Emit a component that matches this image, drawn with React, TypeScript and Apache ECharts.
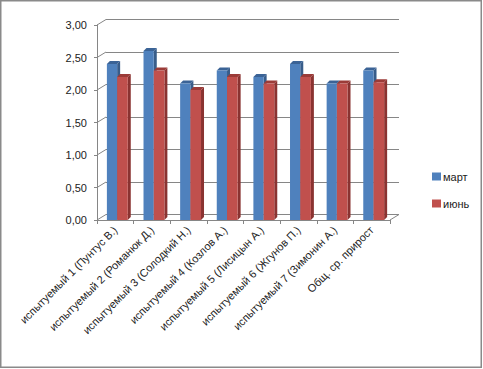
import React, { useEffect, useRef } from "react";
import * as echarts from "echarts";

const categories = [
  "испытуемый 1 (Пунтус В.)",
  "испытуемый 2 (Романюк Д.)",
  "испытуемый 3 (Солодкий Н.)",
  "испытуемый 4 (Козлов А.)",
  "испытуемый 5 (Лисицын А.)",
  "испытуемый 6 (Жгунов П.)",
  "испытуемый 7 (Зимонин А.)",
  "Общ. ср. прирост",
];
const seriesNames = ["март", "июнь"];
const marchValues = [2.4, 2.6, 2.1, 2.3, 2.2, 2.4, 2.1, 2.3];
const juneValues = [2.2, 2.3, 2.0, 2.2, 2.1, 2.2, 2.1, 2.12];
const yTicks = [0, 0.5, 1, 1.5, 2, 2.5, 3];

const FONT = "Liberation Sans, Arial, sans-serif";
const AXIS_GRAY = "#868686";
const DEPTH = 3;
const BACK_DX = 9;
const BACK_DY = -5.5;

function makeBarRender(x0f: number, x1f: number, front: string, side: string, top: string) {
  return (params: any, api: any) => {
    const idx = api.value(0);
    const val = api.value(1);
    const base = api.coord([idx, 0]);
    const tp = api.coord([idx, val]);
    const band = api.size([1, 0])[0];
    const c = base[0];
    const x0 = c + x0f * band;
    const x1 = c + x1f * band;
    const yb = base[1];
    const yt = tp[1];
    const d = DEPTH;
    return {
      type: "group",
      children: [
        {
          type: "polygon",
          shape: { points: [[x1, yt], [x1 + d, yt - d], [x1 + d, yb - d], [x1, yb]] },
          style: { fill: side },
        },
        {
          type: "polygon",
          shape: { points: [[x0, yt], [x0 + d, yt - d], [x1 + d, yt - d], [x1, yt]] },
          style: { fill: top },
        },
        {
          type: "rect",
          shape: { x: x0, y: yt, width: x1 - x0, height: yb - yt },
          style: { fill: front },
        },
      ],
    };
  };
}

export default function App() {
  const ref = useRef<HTMLDivElement>(null);
  useEffect(() => {
    document.body.style.margin = "0";
    if (!ref.current) return;
    const chart = echarts.init(ref.current, undefined, { renderer: "svg" });
    const frontGrid = { left: 97, top: 25, width: 293, height: 195 };
    const option: any = {
      animation: false,
      backgroundColor: "#ffffff",
      textStyle: { fontFamily: FONT },
      grid: [
        { ...frontGrid, containLabel: false },
        {
          left: frontGrid.left + BACK_DX,
          top: frontGrid.top + BACK_DY,
          width: frontGrid.width,
          height: frontGrid.height,
          containLabel: false,
        },
      ],
      xAxis: [
        {
          type: "category",
          gridIndex: 0,
          data: categories,
          boundaryGap: true,
          axisLine: { show: true, lineStyle: { color: AXIS_GRAY, width: 1 } },
          axisTick: { show: true, length: 4, lineStyle: { color: AXIS_GRAY } },
          axisLabel: {
            interval: 0,
            rotate: 45,
            margin: 8,
            fontSize: 11,
            color: "#222222",
            fontFamily: FONT,
          },
          splitLine: { show: false },
          z: 1,
        },
        {
          type: "category",
          gridIndex: 1,
          data: categories,
          show: false,
        },
      ],
      yAxis: [
        {
          type: "value",
          gridIndex: 0,
          min: 0,
          max: 3,
          interval: 0.5,
          axisLine: { show: true, lineStyle: { color: AXIS_GRAY, width: 1 } },
          axisTick: { show: true, length: 3, lineStyle: { color: AXIS_GRAY } },
          axisLabel: {
            margin: 10,
            fontSize: 11,
            color: "#222222",
            fontFamily: FONT,
            formatter: (v: number) => v.toFixed(2).replace(".", ","),
          },
          splitLine: { show: false },
        },
        {
          type: "value",
          gridIndex: 1,
          min: 0,
          max: 3,
          interval: 0.5,
          axisLine: { show: false },
          axisTick: { show: false },
          axisLabel: { show: false },
          splitLine: { show: true, lineStyle: { color: AXIS_GRAY, width: 1.2 } },
        },
      ],
      legend: {
        orient: "vertical",
        left: 427,
        top: 166,
        itemWidth: 9,
        itemHeight: 8,
        itemGap: 16,
        icon: "rect",
        textStyle: { fontSize: 11, color: "#222222", fontFamily: FONT, padding: [0, 0, 0, -3] },
        data: seriesNames,
      },
      series: [
        {
          name: "connectors",
          type: "custom",
          xAxisIndex: 0,
          yAxisIndex: 0,
          silent: true,
          data: yTicks.map((v) => [0, v]),
          renderItem: (params: any, api: any) => {
            const p = api.coord([0, api.value(1)]);
            const band = api.size([1, 0])[0];
            const x = p[0] - band / 2;
            const lines: any[] = [
              {
                type: "line",
                shape: { x1: x, y1: p[1], x2: x + BACK_DX, y2: p[1] + BACK_DY },
                style: { stroke: AXIS_GRAY, lineWidth: 1 },
              },
            ];
            if (api.value(1) === 0) {
              const xr = x + band * categories.length;
              lines.push({
                type: "line",
                shape: { x1: xr, y1: p[1], x2: xr + BACK_DX, y2: p[1] + BACK_DY },
                style: { stroke: AXIS_GRAY, lineWidth: 1 },
              });
            }
            return { type: "group", children: lines };
          },
          z: 1,
        },
        {
          name: seriesNames[0],
          type: "custom",
          xAxisIndex: 0,
          yAxisIndex: 0,
          itemStyle: { color: "#4f81bd" },
          data: marchValues.map((v, i) => [i, v]),
          renderItem: makeBarRender(-0.23, 0.05, "#4f81bd", "#385d8a", "#3b6396"),
          z: 3,
        },
        {
          name: seriesNames[1],
          type: "custom",
          xAxisIndex: 0,
          yAxisIndex: 0,
          itemStyle: { color: "#c0504d" },
          data: juneValues.map((v, i) => [i, v]),
          renderItem: makeBarRender(0.05, 0.34, "#c0504d", "#8a3331", "#9b3b38"),
          z: 3,
        },
      ],
      graphic: [
        {
          type: "rect",
          shape: { x: 0.75, y: 0.75, width: 480.5, height: 366.5 },
          style: { fill: "none", stroke: "#8a8a8a", lineWidth: 1.5 },
          silent: true,
          z: 100,
        },
      ],
    };
    chart.setOption(option);
    return () => chart.dispose();
  }, []);
  return <div ref={ref} style={{ width: 483, height: 369 }} />;
}
